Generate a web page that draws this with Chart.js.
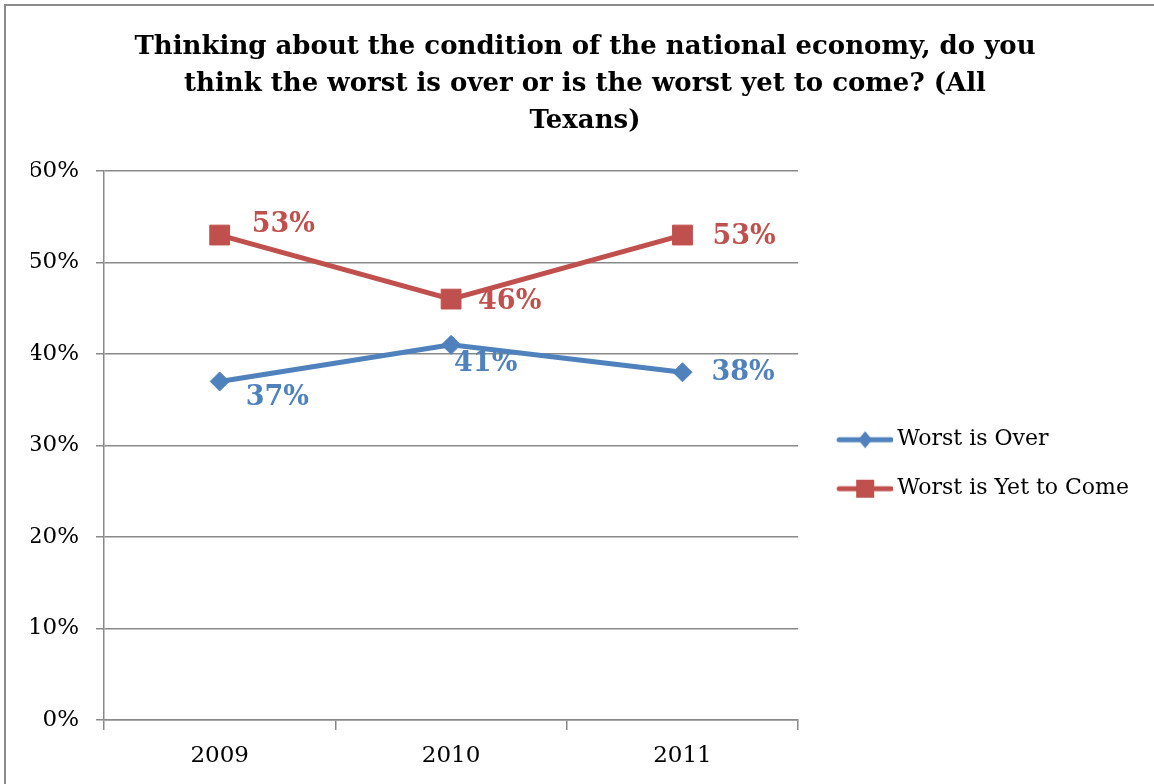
<!DOCTYPE html>
<html>
<head>
<meta charset="utf-8">
<title>Worst is over or yet to come</title>
<script src="https://cdn.jsdelivr.net/npm/chart.js@4.4.1/dist/chart.umd.min.js"></script>
<style>
  html, body { margin: 0; padding: 0; background: #fff; overflow: hidden; }
  #wrap { position: relative; width: 1154px; height: 784px; overflow: hidden; }
  .edge { position: absolute; background: #8a8a8a; pointer-events: none; }
  #edgeTop { left: 4px; top: 4px; width: 1150px; height: 2px; }
  #edgeLeft { left: 4px; top: 4px; width: 2px; height: 780px; }
</style>
</head>
<body>
<div id="wrap">
  <canvas id="pollChart"></canvas>
  <div class="edge" id="edgeTop"></div>
  <div class="edge" id="edgeLeft"></div>
</div>
<script>
'use strict';

var years = ['2009', '2010', '2011'];
var worstIsOver = [37, 41, 38];
var worstYetToCome = [53, 46, 53];
var yTicks = [0, 10, 20, 30, 40, 50, 60];
var seriesNames = ['Worst is Over', 'Worst is Yet to Come'];

var blue = '#4F81BD';
var red = '#C0504D';
var gridGray = '#898989';
var serif = '"DejaVu Serif", "Liberation Serif", serif';

// small line + marker picture used as the legend symbol
function legendSwatch(color, marker) {
  var c = document.createElement('canvas');
  c.width = 75;
  c.height = 24;
  var g = c.getContext('2d');
  g.strokeStyle = color;
  g.fillStyle = color;
  g.lineWidth = 5;
  g.lineCap = 'round';
  g.beginPath();
  g.moveTo(21, 12);
  g.lineTo(73, 12);
  g.stroke();
  var cx = 47;
  if (marker === 'diamond') {
    g.beginPath();
    g.moveTo(cx, 3.5);
    g.lineTo(cx + 7, 12);
    g.lineTo(cx, 20.5);
    g.lineTo(cx - 7, 12);
    g.closePath();
    g.fill();
  } else {
    g.fillRect(cx - 9, 3, 18, 18);
  }
  return c;
}

var swatches = [legendSwatch(blue, 'diamond'), legendSwatch(red, 'square')];

// value labels next to each point, nudged like the original
var pointLabels = {
  id: 'pointLabels',
  afterDatasetsDraw: function(chart, args, opts) {
    var ctx = chart.ctx;
    ctx.save();
    ctx.font = 'bold 27px ' + serif;
    ctx.textAlign = 'left';
    ctx.textBaseline = 'middle';
    chart.data.datasets.forEach(function(ds, i) {
      var meta = chart.getDatasetMeta(i);
      ctx.fillStyle = ds.borderColor;
      meta.data.forEach(function(pt, j) {
        var nudge = opts.nudge[i][j];
        ctx.fillText(ds.data[j] + '%', pt.x + nudge[0], pt.y + nudge[1]);
      });
    });
    ctx.restore();
  }
};

var ctx = document.getElementById('pollChart').getContext('2d');

var chart = new Chart(ctx, {
  type: 'line',
  data: {
    labels: years,
    datasets: [
      {
        label: seriesNames[0],
        data: worstIsOver,
        borderColor: blue,
        backgroundColor: blue,
        borderWidth: 5,
        tension: 0,
        pointStyle: 'rectRot',
        pointRadius: 9.5,
        pointHoverRadius: 9.5,
        pointBorderWidth: 1
      },
      {
        label: seriesNames[1],
        data: worstYetToCome,
        borderColor: red,
        backgroundColor: red,
        borderWidth: 5,
        tension: 0,
        pointStyle: 'rect',
        pointRadius: 14,
        pointHoverRadius: 14,
        pointBorderWidth: 1
      }
    ]
  },
  options: {
    responsive: true,
    maintainAspectRatio: false,
    animation: false,
    events: [],
    layout: { padding: { left: 31, right: 15, top: 0, bottom: 0 } },
    scales: {
      x: {
        offset: true,
        grid: {
          offset: true,
          drawOnChartArea: false,
          drawTicks: true,
          tickLength: 10,
          color: gridGray,
          lineWidth: 1.5
        },
        border: { color: gridGray, width: 1.5 },
        ticks: {
          color: '#000',
          padding: 12,
          font: { family: serif, size: 23 }
        },
        afterFit: function(scale) { scale.height = 64; }
      },
      y: {
        min: 0,
        max: 60,
        afterBuildTicks: function(scale) {
          scale.ticks = yTicks.map(function(v) { return { value: v }; });
        },
        grid: {
          color: gridGray,
          lineWidth: 1.5,
          tickLength: 8
        },
        border: { color: gridGray, width: 1.5 },
        ticks: {
          color: '#000',
          padding: 17,
          font: { family: serif, size: 23 },
          callback: function(v) { return v + '%'; }
        },
        afterFit: function(scale) { scale.width = 73; }
      }
    },
    plugins: {
      title: {
        display: true,
        text: [
          'Thinking about the condition of the national economy, do you',
          'think the worst is over or is the worst yet to come? (All',
          'Texans)'
        ],
        color: '#000',
        font: { family: serif, size: 26, weight: 'bold', lineHeight: 1.423 },
        padding: { top: 28.5, bottom: 31.5 }
      },
      legend: {
        position: 'right',
        align: 'center',
        fullSize: false,
        maxWidth: 400,
        title: { display: true, text: '', padding: { top: 23, bottom: 0 } },
        labels: {
          color: '#000',
          font: { family: serif, size: 22 },
          padding: 27,
          usePointStyle: true,
          pointStyleWidth: 61,
          generateLabels: function(chart) {
            var items = Chart.defaults.plugins.legend.labels.generateLabels(chart);
            items.forEach(function(item, i) {
              item.pointStyle = swatches[i];
            });
            return items;
          }
        }
      },
      tooltip: { enabled: false },
      pointLabels: {
        nudge: [
          [[26, 17], [3, 19], [29, 1]],
          [[32, -10], [27, 3], [30, 2]]
        ]
      }
    }
  },
  plugins: [pointLabels]
});
</script>
</body>
</html>
